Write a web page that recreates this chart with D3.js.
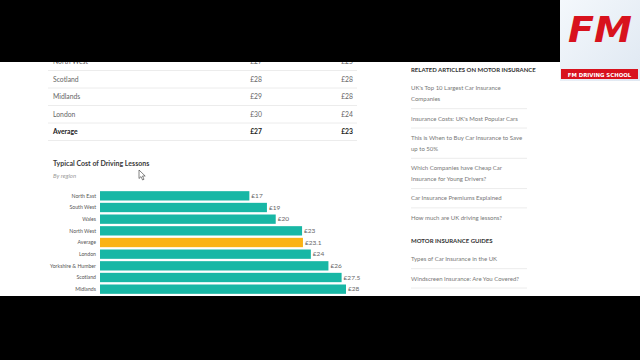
<!DOCTYPE html>
<html><head><meta charset="utf-8">
<script src="https://cdn.jsdelivr.net/npm/d3@7"></script>
<style>html,body{margin:0;padding:0;background:#000;}svg{display:block;}</style>
</head><body>
<script>
// ---- data ----
const regions = ["North East","South West","Wales","North West","Average","London","Yorkshire & Humber","Scotland","Midlands"];
const lessonCost = [17,19,20,23,23.1,24,26,27.5,28];
const costLabels = ["£17","£19","£20","£23","£23.1","£24","£26","£27.5","£28"];
const tableRegions = ["North West","Scotland","Midlands","London","Average"];
const tableCol1 = ["£27","£28","£29","£30","£27"];
const tableCol2 = ["£25","£28","£28","£24","£23"];
const relatedTitle = "RELATED ARTICLES ON MOTOR INSURANCE";
const relatedLinks = [["UK's Top 10 Largest Car Insurance","Companies"],["Insurance Costs: UK's Most Popular Cars"],["This is When to Buy Car Insurance to Save","up to 50%"],["Which Companies have Cheap Car","Insurance for Young Drivers?"],["Car Insurance Premiums Explained"],["How much are UK driving lessons?"]];
const guidesTitle = "MOTOR INSURANCE GUIDES";
const guideLinks = [["Types of Car Insurance in the UK"],["Windscreen Insurance: Are You Covered?"],["Can I Get Car Insurance for a Day?"]];

const W=640,H=360;
const svg=d3.select("body").append("svg").attr("width",W).attr("height",H);
svg.append("rect").attr("width",W).attr("height",H).attr("fill","#000");
const page=svg.append("g");
page.append("rect").attr("x",0).attr("y",60).attr("width",W).attr("height",237).attr("fill","#fff");
const F="Lato, 'Open Sans', sans-serif";

// ---- table ----
const rowY=d3.scalePoint().domain(tableRegions).range([62,132]);
tableRegions.forEach((r,i)=>{
  const y=rowY(r);
  const bold = r==="Average";
  const col = bold?"#222":"#666";
  const fw = bold?"bold":"normal";
  page.append("text").attr("x",53).attr("y",y+2).text(r).attr("font-family",F).attr("font-size",6.8).attr("fill",col).attr("font-weight",fw);
  page.append("text").attr("x",262).attr("y",y+2).attr("text-anchor","end").text(tableCol1[i]).attr("font-family",F).attr("font-size",6.8).attr("fill",col).attr("font-weight",fw);
  page.append("text").attr("x",353).attr("y",y+2).attr("text-anchor","end").text(tableCol2[i]).attr("font-family",F).attr("font-size",6.8).attr("fill",col).attr("font-weight",fw);
  page.append("line").attr("x1",48).attr("x2",357).attr("y1",y+8.5).attr("y2",y+8.5).attr("stroke","#ececec").attr("stroke-width",1);
});

// ---- chart ----
page.append("text").attr("x",53).attr("y",166).text("Typical Cost of Driving Lessons").attr("font-family",F).attr("font-size",7.0).attr("font-weight","bold").attr("fill","#3a3a3a");
page.append("text").attr("x",53).attr("y",178).text("By region").attr("font-family",F).attr("font-size",6).attr("font-style","italic").attr("fill","#999");

const x=d3.scaleLinear().domain([0,28]).range([100,346]);
const y=d3.scaleBand().domain(regions).range([190,295]).paddingInner(0.2).paddingOuter(0.1);
const g=page.append("g");
g.selectAll("rect.bar").data(regions).enter().append("rect").attr("class","bar")
  .attr("x",x(0)).attr("y",d=>y(d)).attr("height",y.bandwidth())
  .attr("width",(d,i)=>x(lessonCost[i])-x(0))
  .attr("fill",d=>d==="Average"?"#fbb316":"#18b7a5");
g.selectAll("text.val").data(regions).enter().append("text").attr("class","val")
  .attr("x",(d,i)=>x(lessonCost[i])+2).attr("y",d=>y(d)+y.bandwidth()/2).attr("dy","0.35em")
  .text((d,i)=>costLabels[i]).attr("font-family",F).attr("font-size",6.5).attr("fill","#666");
const ax=page.append("g").attr("transform",`translate(${x(0)},0)`).call(d3.axisLeft(y).tickSize(0).tickPadding(4));
ax.select(".domain").remove();
ax.selectAll("text").attr("font-family",F).attr("font-size",5.2).attr("fill","#555");

// cursor
page.append("path").attr("d","M139,170 L139,178.5 L141,176.6 L142.6,180 L144,179.3 L142.5,176 L145.2,176 Z").attr("fill","#fff").attr("stroke","#333").attr("stroke-width",0.6);

// ---- sidebar ----
const sb=page.append("g");
sb.append("text").attr("x",411).attr("y",71.5).text(relatedTitle).attr("font-family",F).attr("font-size",6.0).attr("font-weight","bold").attr("fill","#333");
const addLinks=(links,start)=>{
  let yy=start;
  links.forEach((lines,i)=>{
    lines.forEach((t,j)=>{
      sb.append("text").attr("x",411).attr("y",yy+j*11).text(t).attr("font-family",F).attr("font-size",6.0).attr("fill","#777");
    });
    const bottom=yy+(lines.length-1)*11+7.5;
    if(i<links.length-1) sb.append("line").attr("x1",411).attr("x2",527).attr("y1",bottom).attr("y2",bottom).attr("stroke","#ececec");
    yy=bottom+11.8;
  });
  return yy;
};
addLinks(relatedLinks,90.2);
sb.append("text").attr("x",411).attr("y",243.2).text(guidesTitle).attr("font-family",F).attr("font-size",6.0).attr("font-weight","bold").attr("fill","#333");
addLinks(guideLinks,261.2);

// black bars on top
svg.append("rect").attr("x",0).attr("y",0).attr("width",W).attr("height",62).attr("fill","#000");
svg.append("rect").attr("x",0).attr("y",296).attr("width",W).attr("height",64).attr("fill","#000");

// ---- logo ----
const defs=svg.append("defs");
const lg=defs.append("linearGradient").attr("id","lg").attr("x1","0").attr("y1","0").attr("x2","1").attr("y2","1");
lg.append("stop").attr("offset","0").attr("stop-color","#f4f8fc");
lg.append("stop").attr("offset","1").attr("stop-color","#dfe8f2");
svg.append("rect").attr("x",560).attr("y",0).attr("width",80).attr("height",81).attr("fill","url(#lg)");
svg.append("text").attr("x",568).attr("y",42).text("FM").attr("font-family","'DejaVu Sans', sans-serif").attr("font-weight","bold").attr("font-style","italic").attr("font-size",36).attr("textLength",64).attr("lengthAdjust","spacingAndGlyphs").attr("fill","#d8121d");
svg.append("rect").attr("x",561).attr("y",69).attr("width",77).attr("height",10).attr("fill","#d8121d");
svg.append("text").attr("x",599.5).attr("y",76.5).attr("text-anchor","middle").text("FM DRIVING SCHOOL").attr("font-family","'DejaVu Sans', sans-serif").attr("font-weight","bold").attr("font-size",5.4).attr("fill","#fff");
</script>
</body></html>
